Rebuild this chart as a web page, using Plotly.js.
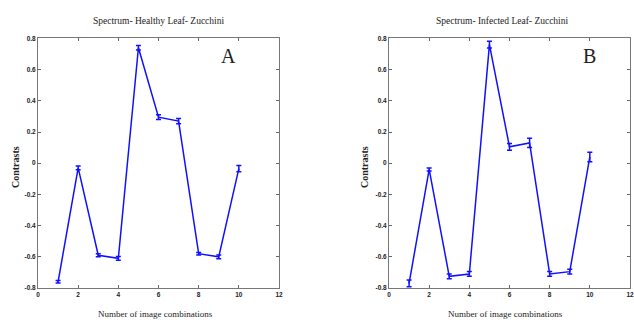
<!DOCTYPE html>
<html><head><meta charset="utf-8">
<script src="https://cdn.plot.ly/plotly-3.0.1.min.js"></script>
<style>body{margin:0;background:#fff}#c{width:634px;height:320px}</style>
</head><body><div id="c"></div>
<script>
const combos = [1,2,3,4,5,6,7,8,9,10];
const healthy = [-0.76,-0.03,-0.59,-0.61,0.74,0.295,0.27,-0.58,-0.60,-0.035];
const healthyErr = [0.008,0.012,0.01,0.012,0.015,0.015,0.017,0.008,0.012,0.02];
const infected = [-0.77,-0.04,-0.725,-0.71,0.76,0.105,0.13,-0.71,-0.695,0.04];
const infectedErr = [0.022,0.01,0.015,0.015,0.022,0.022,0.03,0.015,0.015,0.03];
const xTicks = [0,2,4,6,8,10,12];
const yTicks = [-0.8,-0.6,-0.4,-0.2,0,0.2,0.4,0.6,0.8];
const yTickText = ['-0.8','-0.6','-0.4','-0.2','0','0.2','0.4','0.6','0.8'];

const blue = '#1010ff';
function tr(y, e, xa, ya){
  return {x: combos, y: y, xaxis: xa, yaxis: ya, type:'scatter', mode:'lines',
    line:{color:blue, width:1.5},
    error_y:{type:'data', array:e, visible:true, color:blue, thickness:1.5, width:2.5},
    hoverinfo:'skip', showlegend:false};
}
const tickFont = {family:'Liberation Sans, Arial, sans-serif', size:6.5, color:'#222', weight:'bold'};
function xax(dom, anchor){
  return {domain:dom, anchor:anchor, range:[0,12], tickvals:xTicks, ticktext:xTicks.map(String),
    ticks:'inside', ticklen:3, tickcolor:'#666', showline:true, linecolor:'#777', linewidth:1,
    mirror:'ticks', showgrid:false, zeroline:false, tickfont:tickFont, fixedrange:true};
}
function yax(anchor){
  return {domain:[0.1,0.88], anchor:anchor, range:[-0.8,0.8], tickvals:yTicks, ticktext:yTickText,
    ticks:'inside', ticklen:3, tickcolor:'#666', showline:true, linecolor:'#777', linewidth:1,
    mirror:'ticks', showgrid:false, zeroline:false, tickfont:tickFont, fixedrange:true};
}
const serif = 'Liberation Serif, Times New Roman, serif';
function ann(text, x, y, size, extra){
  return Object.assign({text:text, x:x/634, y:1-y/320, xref:'paper', yref:'paper', showarrow:false,
    xanchor:'center', yanchor:'middle', font:{family:serif, size:size, color:'#222'}}, extra||{});
}
const layout = {
  width:634, height:320, margin:{l:0,r:0,t:0,b:0}, paper_bgcolor:'#fff', plot_bgcolor:'#fff',
  xaxis: xax([38/634, 279/634], 'y'),
  yaxis: yax('x'),
  xaxis2: xax([389/634, 630/634], 'y2'),
  yaxis2: yax('x2'),
  annotations:[
    ann('Spectrum- Healthy Leaf- Zucchini', 158, 21, 9.5),
    ann('Spectrum- Infected Leaf- Zucchini', 503, 21, 9.5),
    ann('Number of image combinations', 155, 314, 9),
    ann('Number of image combinations', 505, 314, 9),
    ann('<b>Contrasts</b>', 15, 167, 10, {textangle:-90}),
    ann('<b>Contrasts</b>', 364, 167, 10, {textangle:-90}),
    ann('A', 229, 56, 20),
    ann('B', 589, 56, 20)
  ]
};
Plotly.newPlot('c', [tr(healthy, healthyErr, 'x', 'y'), tr(infected, infectedErr, 'x2', 'y2')], layout, {displayModeBar:false, staticPlot:true});
</script></body></html>
